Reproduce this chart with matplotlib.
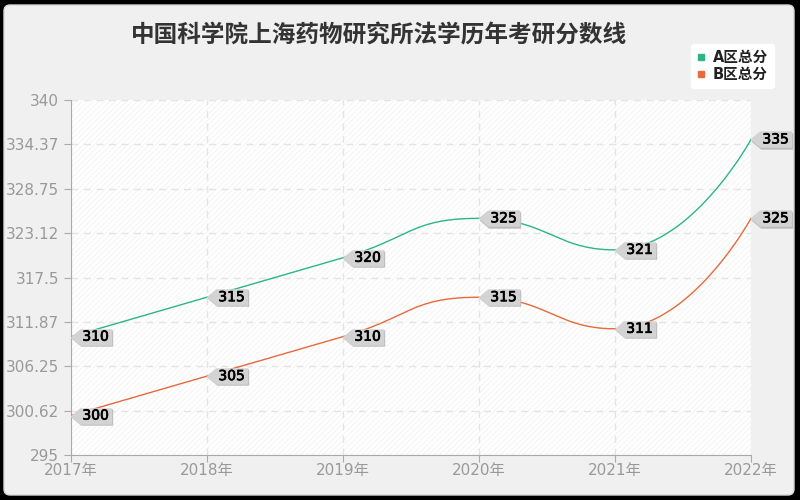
import matplotlib
matplotlib.use('agg')
import matplotlib.pyplot as plt
import matplotlib.patheffects as pe
from matplotlib.patches import FancyBboxPatch, Rectangle
from matplotlib.path import Path
from matplotlib.lines import Line2D
from matplotlib.transforms import IdentityTransform, Affine2D
import numpy as np

plt.rcParams['font.family'] = ['DejaVu Sans', 'Noto Sans CJK SC']
plt.rcParams['hatch.linewidth'] = 0.6

title = '中国科学院上海药物研究所法学历年考研分数线'
years = ['2017年', '2018年', '2019年', '2020年', '2021年', '2022年']
a_scores = [310, 315, 320, 325, 321, 335]
b_scores = [300, 305, 310, 315, 311, 325]
series_names = ['A区总分', 'B区总分']
colors = ['#2ab687', '#e8693a']
ytick_vals = [295, 300.62, 306.25, 311.87, 317.5, 323.12, 328.75, 334.37, 340]
ytick_labels = ['295', '300.62', '306.25', '311.87', '317.5', '323.12', '328.75', '334.37', '340']

ax_w, ax_h = 680, 355
ymin, ymax = 295, 340


def smooth_line(vals, smooth=0.5, n=40):
    # echarts style bezier smoothing, done in pixel space with control point clamping
    m = len(vals)
    sx = ax_w / (m - 1)
    sy = ax_h / (ymax - ymin)
    P = np.array([[i * sx, (v - ymin) * sy] for i, v in enumerate(vals)])
    cp_prev = [None] * m
    cp_next = [None] * m
    for i in range(m):
        p = P[i]
        prev = P[i - 1] if i > 0 else p
        if i == m - 1:
            cp_prev[i] = p.copy()
            continue
        nxt = P[i + 1]
        v = nxt - prev
        len_prev = np.hypot(*(p - prev))
        len_next = np.hypot(*(nxt - p))
        ratio = len_next / (len_next + len_prev)
        nc = p + v * smooth * ratio
        nc = np.minimum(nc, np.maximum(nxt, p))
        nc = np.maximum(nc, np.minimum(nxt, p))
        if len_prev == 0:
            cp_prev[i] = p.copy()
            cp_next[i] = nc
            continue
        v = nc - p
        pc = p - v * len_prev / len_next
        pc = np.minimum(pc, np.maximum(prev, p))
        pc = np.maximum(pc, np.minimum(prev, p))
        v = p - pc
        nc = p + v * len_next / len_prev
        cp_prev[i] = pc
        cp_next[i] = nc
    xs, ys = [], []
    t = np.linspace(0, 1, n)[:, None]
    for i in range(m - 1):
        p0, c1, c2, p3 = P[i], cp_next[i], cp_prev[i + 1], P[i + 1]
        seg = (1 - t) ** 3 * p0 + 3 * (1 - t) ** 2 * t * c1 + 3 * (1 - t) * t ** 2 * c2 + t ** 3 * p3
        xs.extend(seg[:, 0] / sx)
        ys.extend(seg[:, 1] / sy + ymin)
    return xs, ys


fig = plt.figure(figsize=(8, 5), dpi=100, facecolor='black')
panel = FancyBboxPatch((4, 5), 790, 490, boxstyle='round,pad=0,rounding_size=6',
                       transform=IdentityTransform(), facecolor='#f0f0f0',
                       edgecolor='#d8d8d8', linewidth=1, zorder=-10)
fig.patches.append(panel)

ax = fig.add_axes([71 / 800, 45 / 500, ax_w / 800, ax_h / 500])
ax.set_facecolor('white')
ax.add_patch(Rectangle((0, 0), 1, 1, transform=ax.transAxes, facecolor='white',
                       edgecolor='#f2f2f2', hatch='//////', linewidth=0, zorder=0))

x = np.arange(len(years))

# label shape: pointed tip at the point, box to the right (px)
w, h, tip = 40, 15, 9
label_path = Path([(0, 0), (tip, h / 2), (w, h / 2), (w, -h / 2), (tip, -h / 2), (0, 0)],
                  [Path.MOVETO, Path.LINETO, Path.LINETO, Path.LINETO, Path.LINETO, Path.CLOSEPOLY])
ms = 2 * w * 0.72

for vals, color in zip([a_scores, b_scores], colors):
    sx, sy = smooth_line(vals)
    ax.plot(sx, sy, color=color, linewidth=1, zorder=3)
    for xi, yi in zip(x, vals):
        ax.plot(xi, yi, marker=label_path, markersize=ms, color='#bcbcbc',
                linestyle='none', zorder=4, clip_on=False,
                transform=ax.transData + Affine2D().translate(1.2, -1.2))
        ax.plot(xi, yi, marker=label_path, markersize=ms, color='#d3d3d3',
                linestyle='none', zorder=5, clip_on=False)
        ax.annotate(str(yi), (xi, yi), xytext=((tip + w) / 2 * 0.72, 0),
                    textcoords='offset points', ha='center', va='center',
                    fontsize=10, color='#000000', zorder=6, annotation_clip=False,
                    path_effects=[pe.withStroke(linewidth=0.5, foreground='#000000')])

ax.set_xlim(0, len(years) - 1)
ax.set_ylim(ymin, ymax)
ax.set_xticks(x)
ax.set_xticklabels(years)
ax.set_yticks(ytick_vals)
ax.set_yticklabels(ytick_labels)
ax.grid(True, linestyle=(0, (5, 4)), color='#e4e4e4', linewidth=1)
ax.set_axisbelow(True)
for s in ['top', 'right']:
    ax.spines[s].set_visible(False)
for s in ['left', 'bottom']:
    ax.spines[s].set_color('#aaaaaa')
ax.tick_params(axis='both', colors='#aaaaaa', labelcolor='#999999', labelsize=11, length=5)
ax.tick_params(axis='x', pad=1)

fig.text(0.474, 0.928, title, ha='center', va='center', fontsize=17,
         fontweight='bold', color='#333333')

handles = [Line2D([], [], marker='s', color=c, linestyle='none', markersize=4.5) for c in colors]
leg = fig.legend(handles, series_names, loc='upper right', bbox_to_anchor=(774 / 800, 1 - 44 / 500),
                 borderaxespad=0, frameon=True, fontsize=10.5, handlelength=0.6, handletextpad=0.5,
                 borderpad=0.4, labelspacing=0.15, fancybox=True)
leg.get_frame().set_facecolor('white')
leg.get_frame().set_edgecolor('white')
leg.get_frame().set_alpha(1)
for t in leg.get_texts():
    t.set_color('#222222')
    t.set_fontweight('bold')

fig.savefig('out.png', dpi=100, facecolor=fig.get_facecolor())
